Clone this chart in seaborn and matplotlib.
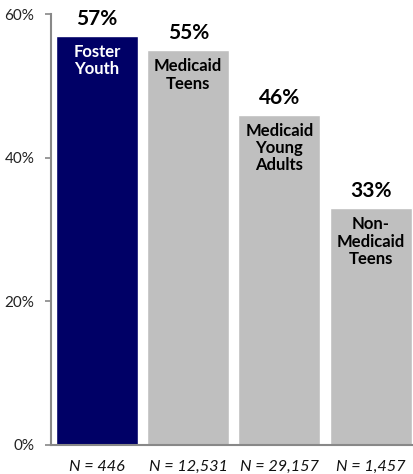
import matplotlib
matplotlib.use("Agg")
import matplotlib.pyplot as plt
import seaborn as sns
import pandas as pd

groups = ["Foster\nYouth", "Medicaid\nTeens", "Medicaid\nYoung\nAdults", "Non-\nMedicaid\nTeens"]
values = [0.57, 0.55, 0.46, 0.33]
n_labels = ["N = 446", "N = 12,531", "N = 29,157", "N = 1,457"]
colors = ["#000066", "#BFBFBF", "#BFBFBF", "#BFBFBF"]
inner_colors = ["white", "black", "black", "black"]
yticks = [0.0, 0.2, 0.4, 0.6]

sns.set_style("white")
plt.rcParams["font.family"] = ["Lato", "DejaVu Sans"]

df = pd.DataFrame({"group": groups, "value": values})

fig = plt.figure(figsize=(4.13, 4.74), dpi=100)
ax = fig.add_axes([51/413, 29/474, 1 - 51/413 - 0.001, 431/474])
sns.barplot(data=df, x="group", y="value", hue="group", palette=colors,
            legend=False, width=0.9, saturation=1, ax=ax)

ax.set_ylim(0, 0.6)
ax.set_xlim(-0.505, 3.46)
ax.set_yticks(yticks)
ax.set_yticklabels([f"{int(round(t*100))}%" for t in yticks], fontsize=11, color="#222222")
ax.set_xticks(range(len(groups)))
ax.set_xticklabels(n_labels, fontsize=11.7, style="italic", color="#111111")
ax.tick_params(axis="x", length=0, pad=11)
ax.tick_params(axis="y", length=4, width=1.2, color="#888888", left=True, direction="out", pad=8)
ax.set_xlabel("")
ax.set_ylabel("")

for s in ["top", "right"]:
    ax.spines[s].set_visible(False)
for s in ["left", "bottom"]:
    ax.spines[s].set_color("#888888")
    ax.spines[s].set_linewidth(1.5)

for i, (v, g) in enumerate(zip(values, groups)):
    ax.annotate(f"{int(round(v*100))}%", (i, v), xytext=(0, 5), textcoords="offset points",
                ha="center", va="bottom", fontsize=15, fontweight="bold", color="black")
    ax.annotate(g, (i, v), xytext=(0, -6), textcoords="offset points",
                ha="center", va="top", fontsize=12, fontweight="bold",
                color=inner_colors[i], linespacing=1.1)

fig.savefig("out.png", dpi=100)
